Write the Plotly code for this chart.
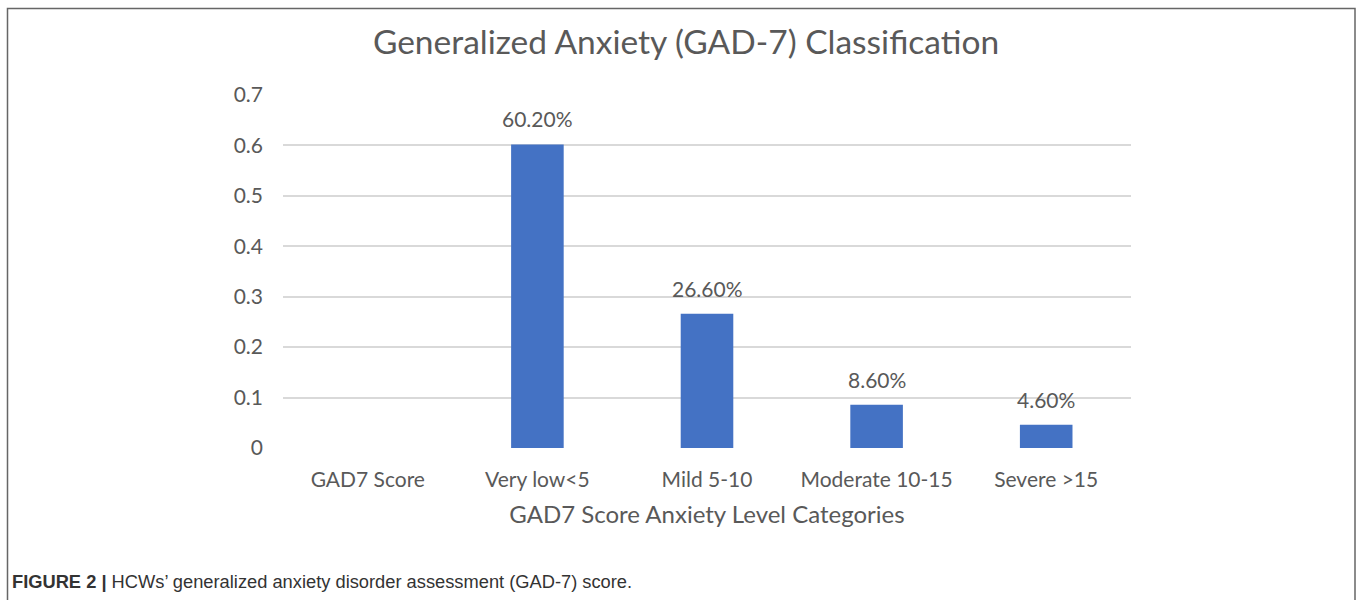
import plotly.graph_objects as go

categories = ["GAD7 Score", "Very low<5", "Mild 5-10", "Moderate 10-15", "Severe >15"]
values = [None, 0.602, 0.266, 0.086, 0.046]
labels = ["", "60.20%", "26.60%", "8.60%", "4.60%"]
y_ticks = [0, 0.1, 0.2, 0.3, 0.4, 0.5, 0.6, 0.7]
y_tick_text = ["0", "0.1", "0.2", "0.3", "0.4", "0.5", "0.6", "0.7"]

W, H = 1358, 600
L, R, T, B = 283, 1358 - 1131, 95, 600 - 448
pw, ph = W - L - R, H - T - B

def px(x):
    return (x - L) / pw

def py(y):
    return (H - B - y) / ph

FONT = "Lato"
GRAY = "#595959"

fig = go.Figure(go.Bar(
    x=categories, y=values,
    marker=dict(color="#4472C4", line=dict(width=0)),
    width=0.31, hoverinfo="x+y",
))

annotations = []
for c, v, t in zip(categories, values, labels):
    if v is None or not t:
        continue
    annotations.append(dict(x=c, y=v, xref="x", yref="y", text=t,
                            showarrow=False, yanchor="bottom", yshift=11,
                            font=dict(family=FONT, size=21, color=GRAY)))

annotations.append(dict(
    text="<b>FIGURE 2 |</b> HCWs’ generalized anxiety disorder assessment (GAD-7) score.",
    xref="paper", yref="paper", x=px(10), y=py(581),
    xanchor="left", yanchor="middle", showarrow=False,
    font=dict(family="Liberation Sans", size=18.3, color="#333333")))

fig.update_layout(
    width=W, height=H,
    margin=dict(l=L, r=R, t=T, b=B),
    paper_bgcolor="white", plot_bgcolor="white",
    showlegend=False,
    title=dict(text="Generalized Anxiety (GAD-7) Classification",
               font=dict(family=FONT, size=33.5, color=GRAY),
               x=px(686), xref="paper", xanchor="center",
               y=1 - 42 / H, yref="container", yanchor="middle"),
    xaxis=dict(showgrid=False, showline=False, zeroline=False,
               tickfont=dict(family=FONT, size=21, color=GRAY),
               ticklabelstandoff=17,
               title=dict(text="GAD7 Score Anxiety Level Categories",
                          font=dict(family=FONT, size=24, color=GRAY),
                          standoff=16)),
    yaxis=dict(range=[0, 0.7], tickvals=y_ticks, ticktext=y_tick_text,
               showgrid=True, gridcolor="#d9d9d9", gridwidth=1.5,
               zeroline=False, showline=False,
               ticklabelstandoff=19,
               tickfont=dict(family=FONT, size=21, color=GRAY)),
    shapes=[dict(type="rect", xref="paper", yref="paper",
                 x0=px(7.5), x1=px(1355), y0=py(620), y1=py(8.5),
                 line=dict(color="#666666", width=1.5), fillcolor="rgba(0,0,0,0)",
                 layer="below")],
    annotations=annotations,
)

fig.write_html("out.html",
               config={"displayModeBar": False},
               post_script="document.body.style.margin='0';document.body.style.overflow='hidden';")
